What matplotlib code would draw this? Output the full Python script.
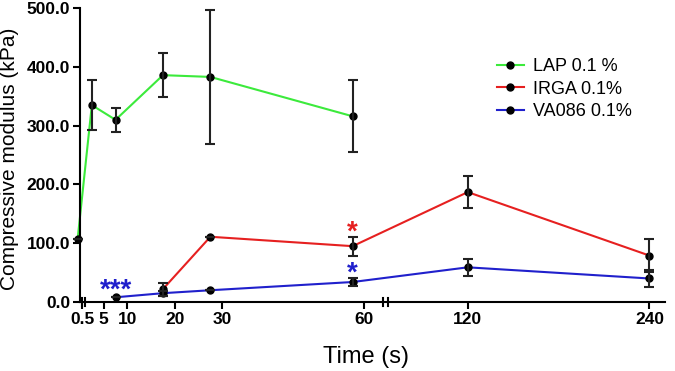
import numpy as np
import matplotlib
matplotlib.use("Agg")
import matplotlib.pyplot as plt

plt.rcParams["font.family"] = ["Liberation Sans", "DejaVu Sans"]

# data (time in s, modulus in kPa)
lap_t = [-0.5, 2.5, 7.5, 17.5, 27.5, 57.5]
lap_y = [107, 335, 310, 386, 383, 316]
lap_err = [0, 43, 20, 38, 114, 61]

irga_t = [17.5, 27.5, 57.5, 120, 240]
irga_y = [22, 111, 95, 187, 79]
irga_err = [11, 0, 16, 27, 28]

va_t = [7.5, 17.5, 27.5, 57.5, 120, 240]
va_y = [8, 15, 20, 34, 59, 40]
va_err = [0, 4, 0, 7, 15, 14]

x_ticks = [0.5, 5, 10, 20, 30, 60, 120, 240]
x_ticklabels = ["0.5", "5", "10", "20", "30", "60", "120", "240"]
y_ticks = [0, 100, 200, 300, 400, 500]

# piecewise linear broken x axis
XK = [0, 64, 66, 250]
UK = [0, 303.4, 306, 584.4]
S1 = UK[1] / XK[1]
S2 = (UK[3] - UK[2]) / (XK[3] - XK[2])


def fwd(x):
    x = np.asarray(x, float)
    u = np.interp(x, XK, UK)
    u = np.where(x < 0, x * S1, u)
    u = np.where(x > XK[-1], UK[-1] + (x - XK[-1]) * S2, u)
    return u


def inv(u):
    u = np.asarray(u, float)
    x = np.interp(u, UK, XK)
    x = np.where(u < 0, u / S1, x)
    x = np.where(u > UK[-1], XK[-1] + (u - UK[-1]) / S2, x)
    return x


fig = plt.figure(figsize=(6.75, 3.71), dpi=100)
ax = fig.add_axes([0.1185, 0.186, 0.866, 0.792])
ax.set_xscale("function", functions=(fwd, inv))

series = [
    (lap_t, lap_y, lap_err, "#3cea3c", "LAP 0.1 %"),
    (irga_t, irga_y, irga_err, "#e62020", "IRGA 0.1%"),
    (va_t, va_y, va_err, "#2020cc", "VA086 0.1%"),
]
for t, y, e, c, lab in series:
    ax.plot(t, y, color=c, lw=1.5, zorder=2, clip_on=False, label=lab,
            marker="o", markersize=5, markerfacecolor="black", markeredgecolor="black")
    ax.errorbar(t, y, yerr=e, fmt="none", ecolor="#222222", elinewidth=1.5,
                capsize=3.5, capthick=1.5, zorder=3, clip_on=False)

ax.set_xlim(0, 250)
ax.set_ylim(0, 500)
ax.set_xticks(x_ticks)
ax.set_xticklabels(x_ticklabels)
ax.set_yticks(y_ticks)
ax.set_yticklabels([f"{v:.1f}" for v in y_ticks])
ax.minorticks_off()
for lbl in ax.get_xticklabels() + ax.get_yticklabels():
    lbl.set_fontweight("bold")
    lbl.set_fontsize(12.5)
ax.tick_params(length=5, width=1.5, pad=2)

for s in ["top", "right"]:
    ax.spines[s].set_visible(False)
for s in ["left", "bottom"]:
    ax.spines[s].set_linewidth(1.5)

# break marks on x axis
for bx in [0.45, 1.1, 63.9, 67.0]:
    ax.plot([bx, bx], [-0.014, 0.014], transform=ax.get_xaxis_transform(),
            color="black", lw=1.5, clip_on=False, zorder=5)

# significance marks
ax.text(7.5, 7, "***", color="#2020cc", fontsize=20, fontweight="bold", ha="center", va="baseline")
ax.text(57.5, 106, "*", color="#e62020", fontsize=20, fontweight="bold", ha="center", va="baseline")
ax.text(57.5, 36, "*", color="#2020cc", fontsize=20, fontweight="bold", ha="center", va="baseline")

ax.set_xlabel("Time (s)", fontsize=17, labelpad=6)
ax.xaxis.set_label_coords(0.49, -0.15)
ax.set_ylabel("Compressive modulus (kPa)", fontsize=15)
ax.yaxis.set_label_coords(-0.104, 0.486)

ax.legend(loc="upper left", bbox_to_anchor=(0.685, 0.885), frameon=False, fontsize=13,
          handlelength=1.5, handletextpad=0.5, labelspacing=0.3)

fig.savefig("out.png", dpi=100)
